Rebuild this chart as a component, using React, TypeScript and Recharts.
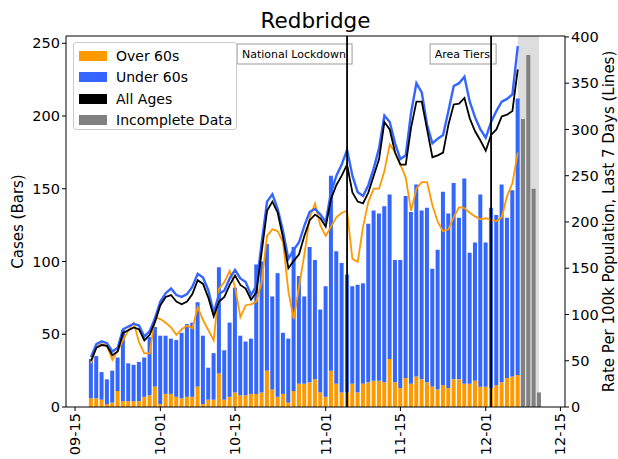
import React from 'react';
import { ComposedChart, Bar, Line, XAxis, YAxis, ReferenceLine, ReferenceArea } from 'recharts';

// day categories on the x axis: 09-15 .. 12-15
const firstDay = Date.UTC(2020, 8, 15);
const dayCount = 92;

const xTicks = ['09-15', '10-01', '10-15', '11-01', '11-15', '12-01', '12-15'];
const leftTicks = [0, 50, 100, 150, 200, 250];
const rightTicks = [0, 50, 100, 150, 200, 250, 300, 350, 400];

// complete daily cases, 09-18 .. 12-07
const casesStart = '09-18';
const over60Cases = [
  6, 6, 5, 2, 3, 11, 4, 4, 4, 4,
  7, 8, 14, 2, 9, 9, 7, 6, 7, 7,
  14, 2, 5, 5, 23, 5, 7, 10, 8, 8,
  9, 9, 10, 25, 12, 7, 9, 3, 11, 16,
  16, 17, 19, 10, 7, 25, 16, 10, 10, 16,
  10, 16, 17, 18, 18, 17, 33, 17, 13, 20,
  16, 21, 19, 17, 14, 12, 15, 13, 19, 19,
  16, 16, 18, 14, 14, 13, 15, 17, 20, 21,
  22,
];
const under60Cases = [
  27, 29, 19, 17, 22, 23, 49, 26, 25, 27,
  27, 40, 41, 47, 40, 38, 39, 45, 50, 51,
  58, 47, 22, 32, 73, 34, 51, 72, 41, 37,
  38, 89, 90, 87, 64, 85, 42, 44, 99, 74,
  60, 93, 82, 57, 76, 134, 91, 89, 81, 67,
  74, 69, 109, 117, 115, 121, 113, 84, 88, 125,
  118, 132, 116, 120, 81, 96, 133, 120, 135, 111,
  141, 90, 95, 132, 99, 124, 117, 136, 110, 128,
  190,
];

// incomplete days, 12-08 .. 12-11
const incompleteStart = '12-08';
const incompleteCases = [198, 242, 150, 10];

// rate per 100k, last 7 days, 09-18 .. 12-07
const over60Rate = [
  47, 65, 68, 66, 51, 61, 72, 83, 91, 70,
  58, 58, 97, 95, 91, 86, 78, 84, 88, 85,
  108, 94, 83, 72, 128, 135, 147, 130, 97, 110,
  111, 114, 135, 185, 192, 190, 178, 125, 95, 130,
  165, 205, 220, 196, 185, 195, 205, 210, 212, 160,
  157, 195, 222, 236, 236, 255, 284, 275, 262, 248,
  212, 236, 243, 243, 218, 200, 190, 192, 205, 216,
  215, 210, 206, 203, 204, 202, 201, 205, 228, 242,
  275,
];
const under60Rate = [
  54, 68, 71, 69, 60, 64, 84, 87, 90, 88,
  76, 82, 96, 114, 123, 128, 121, 119, 122, 130,
  144, 140, 126, 102, 122, 126, 139, 148, 139, 135,
  121, 131, 178, 222, 230, 214, 190, 160, 170, 178,
  196, 211, 214, 208, 200, 232, 250, 262, 278, 250,
  232, 228, 240, 258, 280, 315, 308, 285, 268, 272,
  318, 350, 340, 305, 285, 290, 294, 320, 347, 350,
  357, 330, 313, 300, 291, 308, 320, 330, 333, 338,
  390,
];
const allAgesRate = [
  50, 64, 67, 66, 56, 60, 80, 83, 86, 84,
  72, 78, 92, 110, 119, 121, 114, 111, 114, 122,
  137, 133, 118, 98, 114, 119, 132, 142, 132, 128,
  116, 124, 168, 212, 222, 210, 183, 150, 158, 165,
  185, 202, 208, 204, 195, 225, 240, 250, 262, 232,
  222, 220, 232, 250, 268, 308, 300, 275, 262, 262,
  302, 330, 330, 300, 270, 272, 275, 305, 327, 328,
  334, 312, 298, 288, 277, 294, 300, 314, 316, 320,
  365,
];

const events = [
  { date: '11-05', label: 'National Lockdown', textWidth: 105 },
  { date: '12-02', label: 'Area Tiers', textWidth: 56 },
];
const shadeFrom = '12-07';
const shadeTo = '12-11';

const ORANGE = '#ff9900';
const BLUE = '#3366ff';
const GREY = '#808080';
const FONT = 'DejaVu Sans';

const fmt = (t: number) => {
  const d = new Date(t);
  return String(d.getUTCMonth() + 1).padStart(2, '0') + '-' + String(d.getUTCDate()).padStart(2, '0');
};
const dates = Array.from({ length: dayCount }, (_, i) => fmt(firstDay + i * 86400000));
const caseOffset = dates.indexOf(casesStart);
const incOffset = dates.indexOf(incompleteStart);

const rows = dates.map((date, i) => {
  const j = i - caseOffset;
  const k = i - incOffset;
  const has = j >= 0 && j < over60Cases.length;
  return {
    date,
    over: has ? over60Cases[j] : undefined,
    under: has ? under60Cases[j] : undefined,
    incomplete: k >= 0 && k < incompleteCases.length ? incompleteCases[k] : undefined,
    overRate: has ? over60Rate[j] : undefined,
    underRate: has ? under60Rate[j] : undefined,
    allRate: has ? allAgesRate[j] : undefined,
  };
});

const PAD_L = 6.35;
const PAD_R = 1.9;
const BAND = (499 - PAD_L - PAD_R) / dayCount;

const DateTick = (props: any) => {
  const { x, y, payload } = props;
  return (
    <text x={x} y={y} transform={`rotate(-90, ${x}, ${y})`} textAnchor="end" dy="0.35em"
      fontSize={14.5} fontFamily={FONT} fill="#000">
      {payload.value}
    </text>
  );
};

const Shade = (p: any) => (
  <rect x={p.x + BAND / 2} y={p.y} width={Math.max(0, p.width - BAND)} height={p.height} fill="#dddddd" />
);

const EventBox = ({ viewBox, text, textWidth }: any) => {
  if (!viewBox) return null;
  const x = viewBox.x;
  const top = viewBox.y;
  return (
    <g>
      <rect x={x - textWidth - 5} y={top + 8} width={textWidth + 10} height={20} fill="#fff" stroke="#999" strokeWidth={1} />
      <text x={x - 1} y={top + 18} textAnchor="end" dominantBaseline="central" fontSize={11} fontFamily={FONT} fill="#000">
        {text}
      </text>
    </g>
  );
};

const AxisTitle = ({ viewBox, text, dx }: any) => {
  if (!viewBox) return null;
  const cx = viewBox.x + dx;
  const cy = viewBox.y + viewBox.height / 2;
  return (
    <text x={cx} y={cy} transform={`rotate(-90, ${cx}, ${cy})`} textAnchor="middle" dominantBaseline="central"
      fontSize={15} fontFamily={FONT} fill="#000">
      {text}
    </text>
  );
};

const legendItems = [
  { label: 'Over 60s', color: ORANGE },
  { label: 'Under 60s', color: BLUE },
  { label: 'All Ages', color: '#000' },
  { label: 'Incomplete Data', color: GREY },
];

const tickStyle = { fill: '#000', fontSize: 14.5, fontFamily: FONT };

export default function App() {
  return (
    <div style={{ position: 'absolute', left: 0, top: 0, width: 618, height: 459, background: '#fff', fontFamily: FONT }}>
      <ComposedChart width={618} height={459} data={rows} margin={{ top: 36, right: 0, bottom: 0, left: 0 }} barCategoryGap="10%">
        <XAxis dataKey="date" ticks={xTicks} interval={0} height={52} padding={{ left: PAD_L, right: PAD_R }}
          tickSize={4} tick={<DateTick />} axisLine={{ stroke: '#000' }} tickLine={{ stroke: '#000' }} />
        <YAxis yAxisId="left" orientation="left" width={66} domain={[0, 255]} ticks={leftTicks} tickSize={4}
          tick={tickStyle} axisLine={{ stroke: '#000' }} tickLine={{ stroke: '#000' }}
          label={(p: any) => <AxisTitle viewBox={p.viewBox} text="Cases (Bars)" dx={18} />} />
        <YAxis yAxisId="right" orientation="right" width={53} domain={[0, 401]} ticks={rightTicks} tickSize={4}
          tick={tickStyle} axisLine={{ stroke: '#000' }} tickLine={{ stroke: '#000' }}
          label={(p: any) => <AxisTitle viewBox={p.viewBox} text="Rate Per 100k Population, Last 7 Days (Lines)" dx={44} />} />

        <ReferenceArea yAxisId="left" x1={shadeFrom} x2={shadeTo} y1={0} y2={255} shape={Shade} />

        <Bar yAxisId="left" dataKey="over" stackId="c" fill={ORANGE} isAnimationActive={false} />
        <Bar yAxisId="left" dataKey="under" stackId="c" fill={BLUE} isAnimationActive={false} />
        <Bar yAxisId="left" dataKey="incomplete" stackId="c" fill={GREY} isAnimationActive={false} />

        <Line yAxisId="right" dataKey="overRate" stroke={ORANGE} strokeWidth={1.8} dot={false} type="linear" isAnimationActive={false} />
        <Line yAxisId="right" dataKey="underRate" stroke={BLUE} strokeWidth={2.4} dot={false} type="linear" isAnimationActive={false} />
        <Line yAxisId="right" dataKey="allRate" stroke="#000" strokeWidth={1.8} dot={false} type="linear" isAnimationActive={false} />

        {events.map((e) => (
          <ReferenceLine key={'box' + e.date} yAxisId="left" x={e.date} stroke="#000" strokeOpacity={0}
            label={(p: any) => <EventBox viewBox={p.viewBox} text={e.label} textWidth={e.textWidth} />} />
        ))}
        {events.map((e) => (
          <ReferenceLine key={'line' + e.date} yAxisId="left" x={e.date} stroke="#000" strokeWidth={1.8} />
        ))}
        <ReferenceLine yAxisId="left" y={255} stroke="#000" />
      </ComposedChart>

      <div style={{ position: 'absolute', left: 0, width: 631, top: 10, textAlign: 'center', fontSize: 21.5, lineHeight: '21.5px', color: '#000' }}>
        Redbridge
      </div>

      <div style={{ position: 'absolute', left: 73, top: 42, width: 164, height: 88, border: '1px solid #cccccc', borderRadius: 3, background: 'rgba(255,255,255,0.8)', boxSizing: 'border-box' }}>
        {legendItems.map((it, i) => (
          <div key={it.label} style={{ position: 'absolute', left: 0, top: 3 + i * 21.3, height: 20, width: 160 }}>
            <div style={{ position: 'absolute', left: 5, top: 5, width: 28, height: 10, background: it.color }} />
            <div style={{ position: 'absolute', left: 42, top: 0, fontSize: 14, lineHeight: '20px', color: '#000', whiteSpace: 'nowrap' }}>
              {it.label}
            </div>
          </div>
        ))}
      </div>
    </div>
  );
}
